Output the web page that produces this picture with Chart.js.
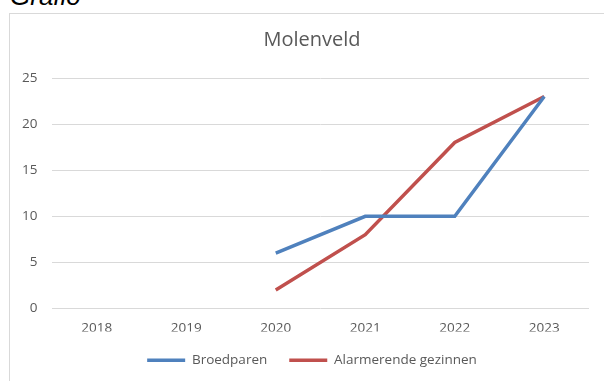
<!DOCTYPE html>
<html>
<head>
<meta charset="utf-8">
<script src="https://cdn.jsdelivr.net/npm/chart.js@4/dist/chart.umd.min.js"></script>
<style>
  body { margin: 0; background: #fff; width: 604px; height: 381px; overflow: hidden; position: relative; }
  #kop { position: absolute; left: 10px; top: -19px; font: italic 26px "Liberation Sans", Arial, sans-serif; color: #000; }
  #box { position: absolute; left: 9px; top: 13px; width: 594px; height: 367px; border: 1px solid #d9d9d9; }
</style>
</head>
<body>
<div id="kop">Grafio</div>
<div id="box"><canvas id="molenveld" width="594" height="367"></canvas></div>
<script>
// jaren en tellingen
const jaren = ["2018", "2019", "2020", "2021", "2022", "2023"];
const broedparen = [null, null, 6, 10, 10, 23];
const alarmerend = [null, null, 2, 8, 18, 23];
const yTicks = [0, 5, 10, 15, 20, 25];

const grijs = "#595959";
const lettertype = "'Open Sans', 'Noto Sans', sans-serif";

const canvas = document.getElementById("molenveld");

new Chart(canvas.getContext("2d"), {
  type: "line",
  data: {
    labels: jaren,
    datasets: [
      {
        label: "Broedparen",
        data: broedparen,
        borderColor: "#4f81bd",
        backgroundColor: "#4f81bd",
        borderWidth: 3.5,
        pointRadius: 0,
        tension: 0
      },
      {
        label: "Alarmerende gezinnen",
        data: alarmerend,
        borderColor: "#c0504d",
        backgroundColor: "#c0504d",
        borderWidth: 3.5,
        pointRadius: 0,
        tension: 0
      }
    ]
  },
  options: {
    responsive: false,
    animation: false,
    layout: { padding: { left: 25, right: 15, top: 0, bottom: 4 } },
    plugins: {
      title: {
        display: true,
        text: "Molenveld",
        color: grijs,
        font: { family: lettertype, size: 20, weight: "normal" },
        padding: { top: 14, bottom: 26 }
      },
      legend: {
        position: "bottom",
        labels: {
          color: grijs,
          font: { family: lettertype, size: 13.5 },
          usePointStyle: true,
          pointStyle: "line",
          pointStyleWidth: 38,
          padding: 22
        }
      },
      tooltip: { enabled: false }
    },
    scales: {
      x: {
        offset: true,
        grid: { display: false, drawTicks: false },
        border: { display: false },
        ticks: { color: grijs, font: { family: lettertype, size: 13.5 }, padding: 12 },
        afterFit: (scale) => { scale.height = 23; }
      },
      y: {
        min: 0,
        max: 25,
        afterBuildTicks: (scale) => { scale.ticks = yTicks.map(v => ({ value: v })); },
        grid: { color: "#d9d9d9", lineWidth: 1, drawTicks: false },
        border: { display: false },
        // gespiegeld met negatieve padding: labels blijven rechts uitgelijnd links van het raster
        ticks: { color: grijs, font: { family: lettertype, size: 13.5 }, mirror: true, crossAlign: "far", padding: -30 },
        afterFit: (scale) => { scale.width = 17; }
      }
    }
  }
});
</script>
</body>
</html>
